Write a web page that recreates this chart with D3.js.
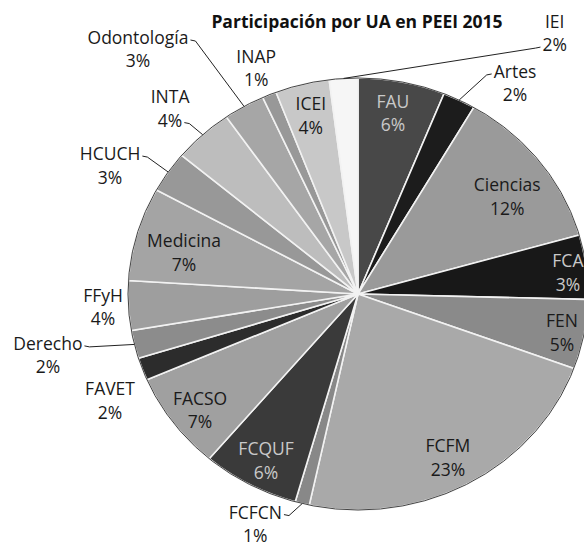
<!DOCTYPE html>
<html><head><meta charset="utf-8">
<script src="https://cdn.jsdelivr.net/npm/d3@7"></script>
<style>body{margin:0;background:#fff}</style>
</head><body>
<svg id="c" width="584" height="546"></svg>
<script>
// ---- data ----
const categories = ["FAU","Artes","Ciencias","FCA","FEN","FCFM","FCFCN","FCQUF","FACSO","FAVET","Derecho","FFyH","Medicina","HCUCH","INTA","Odontología","INAP","ICEI","IEI"];
const shares = [6.1,2.3,12.2,4.8,5.2,22.8,1.0,6.8,7.3,1.7,2.1,3.7,7.0,3.1,4.2,2.9,1.0,3.8,2.0];
const pctLabels = ["6%","2%","12%","3%","5%","23%","1%","6%","7%","2%","2%","4%","7%","3%","4%","3%","1%","4%","2%"];
const title = "Participación por UA en PEEI 2015";

// ---- styles / layout ----
const fills = ["#484848","#1c1c1c","#9a9a9a","#181818","#8a8a8a","#a9a9a9","#888888","#3a3a3a","#a0a0a0","#2c2c2c","#8c8c8c","#9e9e9e","#a4a4a4","#989898","#bdbdbd","#a6a6a6","#989898","#c8c8c8","#f6f6f6"];
const darkSlice = [1,0,0,1,0,0,0,1,0,0,0,0,0,0,0,0,0,0,0];
const labR  = [0.85,1.19,0.79,0.918,0.905,0.852,1.155,0.869,0.873,1.186,1.378,1.11,0.78,1.231,1.185,1.482,1.134,0.851,1.48];
const labDA = [-0.7,8.9,3,1,0.6,1.5,8.7,-0.7,-1.6,-4.3,1.6,-0.1,-2,-5.5,-1.1,-10.5,-0.3,0.1,38.9];
const leaderLine = [-1,0,-1,-1,-1,-1,0,-1,-1,-1,0,-1,-1,0,1,0,-1,-1,1];

const cx = 358, cy = 294, R = 230, sy = 216/230;
const font = "'Open Sans', 'DejaVu Sans', sans-serif";
const fs = 17.5, lh = 23.5;

const svg = d3.select("#c");

svg.append("text")
  .attr("x", 357).attr("y", 28)
  .attr("text-anchor", "middle")
  .style("font-family", font).style("font-weight", "bold").style("font-size", "17.5px")
  .attr("fill", "#111")
  .text(title);

const pie = d3.pie().sort(null).value(d => d.v);
const data = categories.map((c, i) => ({c, v: shares[i], i}));
const arcs = pie(data);
const arc = d3.arc().innerRadius(0).outerRadius(R);

const g = svg.append("g").attr("transform", `translate(${cx},${cy}) scale(1,${sy})`);
g.selectAll("path").data(arcs).join("path")
  .attr("d", arc)
  .attr("fill", d => fills[d.data.i])
  .attr("stroke", "#f2f2f2")
  .attr("stroke-width", 1.6)
  .attr("vector-effect", "non-scaling-stroke");
g.append("ellipse").attr("rx", R).attr("ry", R).attr("fill", "none")
  .attr("stroke", "#444").attr("stroke-width", 1).attr("vector-effect", "non-scaling-stroke");

function pt(a, r) {
  return [cx + R * r * Math.sin(a), cy - R * sy * r * Math.cos(a)];
}

const lab = svg.append("g");
arcs.forEach(d => {
  const i = d.data.i;
  const mid = (d.startAngle + d.endAngle) / 2;
  const a = mid + labDA[i] * Math.PI / 180;
  const [x, y] = pt(a, labR[i]);
  const inside = labR[i] < 1;
  const col = inside && darkSlice[i] ? "#c9c9c9" : "#1a1a1a";
  const b1 = y - 5.5, b2 = b1 + lh;
  const t = lab.append("text").attr("text-anchor", "middle")
    .style("font-family", font).style("font-size", fs + "px").attr("fill", col);
  const l1 = t.append("tspan").attr("x", x).attr("y", b1).text(d.data.c);
  const l2 = t.append("tspan").attr("x", x).attr("y", b2).text(pctLabels[i]);
  if (leaderLine[i] >= 0) {
    const node = leaderLine[i] === 0 ? l1.node() : l2.node();
    const w = node.getComputedTextLength();
    const ly = (leaderLine[i] === 0 ? b1 : b2) - 4;
    const e = pt(mid, 1.0);
    const right = e[0] > x;
    const sx = right ? x + w / 2 + 2 : x - w / 2 - 2;
    const hx = right ? sx + 5 : sx - 5;
    lab.append("path")
      .attr("d", d3.line()([[sx, ly], [hx, ly + 1], e]))
      .attr("fill", "none").attr("stroke", "#222").attr("stroke-width", 1);
  }
});
</script>
</body></html>
